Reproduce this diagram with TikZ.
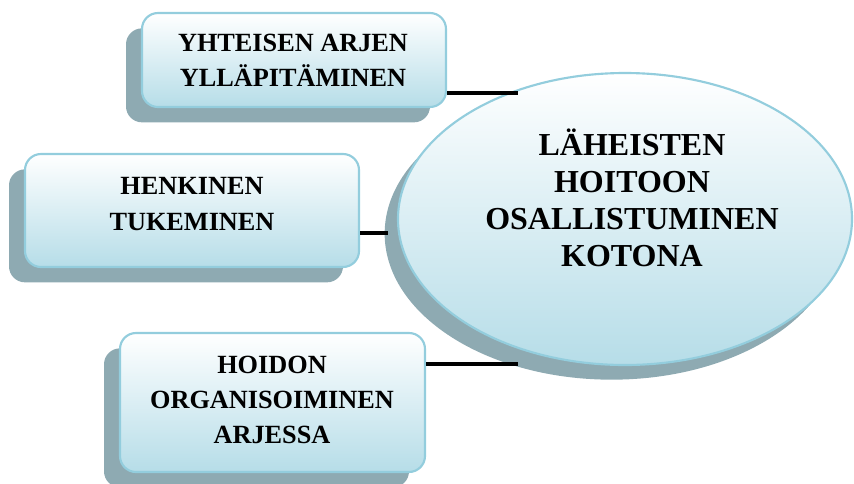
\documentclass[tikz,border=0pt]{standalone}
\usepackage{fontspec}
\setmainfont{Liberation Serif}
\usetikzlibrary{shadows,shapes.geometric}
\definecolor{shadowc}{RGB}{142,170,178}
\definecolor{fillc}{RGB}{182,221,232}
\definecolor{edgec}{RGB}{147,205,221}
\begin{document}
\begin{tikzpicture}[x=0.75pt,y=-0.75pt,
  topic/.style={draw=edgec, line width=1.6pt, rounded corners=12pt,
    top color=white, bottom color=fillc,
    general shadow={fill=shadowc, shadow xshift=-12pt, shadow yshift=-11.5pt},
    inner sep=0pt},
  hub/.style={ellipse, draw=edgec, line width=1.6pt,
    top color=white, bottom color=fillc,
    general shadow={fill=shadowc, shadow xshift=-10pt, shadow yshift=-11pt},
    inner sep=0pt},
  boxtext/.style={align=center, font=\fontsize{19.7}{26.3}\selectfont\bfseries, inner sep=0pt},
  hubtext/.style={align=center, font=\fontsize{24}{27.75}\selectfont\bfseries, inner sep=0pt},
  link/.style={line width=3pt, black}]
\useasboundingbox (0,0) rectangle (854,483);

% central topic
\node[hub, minimum width=340.5pt, minimum height=219pt] (hub) at (625,219) {};
\node[hubtext] (hubt) at (632,198) {LÄHEISTEN\\HOITOON\\OSALLISTUMINEN\\KOTONA};

% surrounding topics
\node[topic, minimum width=228pt, minimum height=70.5pt] (b1) at (294,60) {};
\node[boxtext] (b1t) at (293,60) {YHTEISEN ARJEN\\YLLÄPITÄMINEN};

\node[topic, minimum width=250.5pt, minimum height=84.75pt] (b2) at (192,210.5) {};
\node[boxtext] (b2t) at (192,204) {HENKINEN\\TUKEMINEN};

\node[topic, minimum width=228.75pt, minimum height=104.25pt] (b3) at (272.5,402.5) {};
\node[boxtext] (b3t) at (272,400) {HOIDON\\ORGANISOIMINEN\\ARJESSA};

% connectors
\coordinate (e1) at (518,93);
\coordinate (e2) at (388,233);
\coordinate (e3) at (518,364);
\draw[link] (b1.east |- e1) -- (e1);
\draw[link] (b2.east |- e2) -- (e2);
\draw[link] (b3.east |- e3) -- (e3);
\end{tikzpicture}
\end{document}
